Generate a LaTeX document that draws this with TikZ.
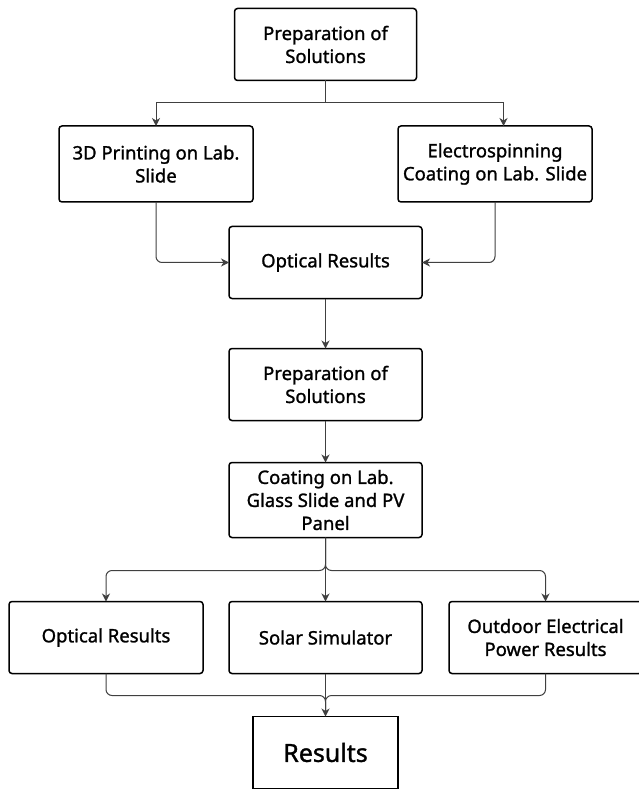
\documentclass[tikz,border=0pt]{standalone}
\usepackage{fontspec}
\setmainfont{Noto Sans}
\newfontfamily\boxfont{Noto Sans}[FakeBold=1.3]
\usetikzlibrary{positioning, arrows.meta}

\begin{document}
\begin{tikzpicture}[
    x=1pt, y=1pt,
    node distance=45pt and 26pt,
    % Define styles
    base/.style={rectangle, draw, line width=1.5pt, outer sep=0pt, align=center, rounded corners=3pt, font=\boxfont\fontsize{18.5}{23}\selectfont, inner xsep=2pt, inner ysep=2pt},
    stepbox/.style={base, minimum width=193pt, minimum height=72pt},
    sidebox/.style={base, minimum width=194pt, minimum height=76pt},
    final/.style={base, sharp corners, minimum width=145pt, minimum height=72pt, font=\boxfont\fontsize{25}{30}\selectfont},
    line/.style={draw=black!75, line width=1pt},
    arrow/.style={line, -{Stealth[length=8pt, width=8pt, inset=2.5pt]}}
]
    \useasboundingbox (0,0) rectangle (638,-791);

    % --- FIRST STAGE ---
    \node (prep_a) [stepbox, minimum width=182pt] at (325.5,-44.5) {Preparation of\\Solutions};
    \node (print_3d) [sidebox, below left=45.5pt and -18.5pt of prep_a] {3D Printing on Lab.\\Slide};
    \node (electro) [sidebox, below right=45.5pt and -18.5pt of prep_a] {Electrospinning\\Coating on Lab. Slide};
    \node (optical_a) [stepbox, below=146pt of prep_a] {Optical Results};

    % --- SECOND STAGE ---
    \node (prep_b) [stepbox, below=50pt of optical_a] {Preparation of\\Solutions};
    \node (coating) [stepbox, minimum height=75pt, below=42pt of prep_b] {Coating on Lab.\\Glass Slide and PV\\Panel};

    % --- TESTS ---
    \node (solar) [stepbox, below=64pt of coating] {Solar Simulator};
    \node (optical_b) [stepbox, minimum width=194pt, left=of solar] {Optical Results};
    \node (outdoor) [stepbox, right=27pt of solar] {Outdoor Electrical\\Power Results};
    \node (results) [final, below=43pt of solar] {Results};

    % --- DRAW CONNECTIONS ---
    \draw [line] (prep_a.south) -- ++(0,-22.5) coordinate (split);
    \draw [arrow] (split) -| (print_3d.north);
    \draw [arrow] (split) -| ([xshift=8.5pt]electro.north);

    % Both coatings into the optical test
    \draw [arrow, rounded corners=6pt] (print_3d.south) |- (optical_a.west);
    \draw [arrow, rounded corners=6pt] (electro.south) |- (optical_a.east);

    \draw [arrow] (optical_a) -- (prep_b);
    \draw [arrow] (prep_b) -- (coating);

    % Fan out to the three tests
    \draw [line] (coating.south) -- ++(0,-33) coordinate (fork);
    \draw [arrow, rounded corners=6pt] (coating.south) -- (fork) -| (optical_b.north);
    \draw [arrow, rounded corners=6pt] (coating.south) -- (fork) -| (outdoor.north);
    \draw [arrow] (fork) -- (solar.north);

    % Merge into the results
    \coordinate (merge) at ([yshift=21pt]results.north);
    \draw [line, rounded corners=6pt] (optical_b.south) |- (merge) -- ([yshift=4pt]results.north);
    \draw [line, rounded corners=6pt] (outdoor.south) |- (merge) -- ([yshift=4pt]results.north);
    \draw [arrow] (solar.south) -- (results.north);

\end{tikzpicture}
\end{document}
